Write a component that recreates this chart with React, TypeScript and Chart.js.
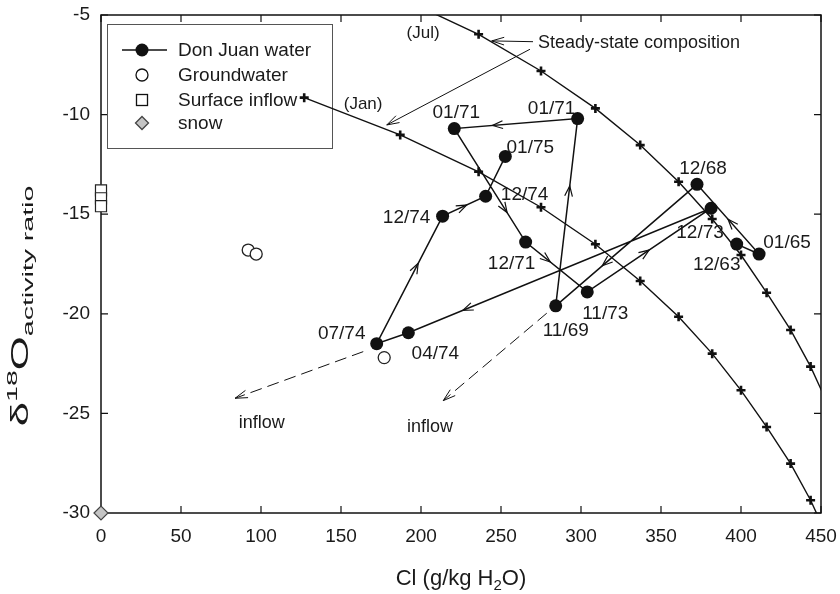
import { useEffect, useRef } from "react";
import { Chart, registerables } from "chart.js";

Chart.register(...registerables);

const FONT = '"Liberation Sans", Arial, Helvetica, sans-serif';
const INK = "#1a1a1a";

// Don Juan Pond water, in sampling order
const donJuanDates = ["12/63", "01/65", "12/68", "11/69", "01/71", "01/71", "12/71", "11/73", "12/73", "04/74", "07/74", "12/74", "12/74", "01/75"];
const donJuanCl = [397.3, 411.3, 372.5, 284.2, 297.9, 220.8, 265.4, 303.9, 381.3, 192.1, 172.3, 213.5, 240.4, 252.7];
const donJuanD18O = [-16.5, -17.0, -13.5, -19.6, -10.2, -10.7, -16.4, -18.9, -14.7, -20.95, -21.5, -15.1, -14.1, -12.1];

const groundwaterCl = [92, 97, 177];
const groundwaterD18O = [-16.8, -17.0, -22.2];

const surfaceInflowCl = [0, 0, 0];
const surfaceInflowD18O = [-13.8, -14.2, -14.6];

const snowCl = [0];
const snowD18O = [-30];

// Monthly steady-state compositions
const steadyStateCl = [127, 187, 236, 275, 309, 337, 361, 382, 400, 416, 431, 443.5, 454];
const steadyJanD18O = [-9.15, -11.02, -12.87, -14.65, -16.51, -18.35, -20.15, -22.0, -23.84, -25.68, -27.52, -29.36, -31.2];
const steadyJulD18O = [-2.3, -4.13, -5.97, -7.81, -9.69, -11.53, -13.37, -15.24, -17.05, -18.94, -20.81, -22.65, -24.5];

const xTickValues = [0, 50, 100, 150, 200, 250, 300, 350, 400, 450];
const yTickValues = [-30, -25, -20, -15, -10, -5];

// Where along each path segment the direction arrow sits (null = none)
const segmentArrowAt = [null, 0.5, 0.67, 0.64, 0.69, 0.74, 0.4, 0.5, 0.82, null, 0.63, 0.56, null];

// Label placement around each Don Juan sample, in pixels from the marker
const dateLabelOffsets: [number, number][] = [
  [-20, 21], [28, -11], [6, -16], [10, 25], [-26, -10], [2, -16], [-14, 22],
  [18, 22], [-11, 25], [27, 21], [-35, -10], [-36, 2], [39, -2], [25, -9],
];

// Annotation anchors in data units (Cl, δ18O)
const inflowArrows = [
  { from: [163.9, -21.9], to: [83.8, -24.24], text: [100.4, -25.47] },
  { from: [278.6, -19.97], to: [213.9, -24.36], text: [205.6, -25.67] },
];
const steadyStateNote = {
  text: [273.1, -6.4],
  julTip: [244.2, -6.3],
  julFrom: [270, -6.34],
  janFrom: [268.1, -6.72],
  janTip: [178.6, -10.52],
};
const julLabel = [201.3, -5.9];
const janLabel = [163.8, -9.47];

const toPoints = (xs: number[], ys: number[]) => xs.map((x, i) => ({ x, y: ys[i] }));

function arrowHead(ctx: CanvasRenderingContext2D, x: number, y: number, ang: number, len = 11, spread = 0.36) {
  ctx.beginPath();
  ctx.moveTo(x - len * Math.cos(ang - spread), y - len * Math.sin(ang - spread));
  ctx.lineTo(x, y);
  ctx.lineTo(x - len * Math.cos(ang + spread), y - len * Math.sin(ang + spread));
  ctx.stroke();
}

const framePlugin = {
  id: "frame",
  beforeDatasetsDraw(chart: any) {
    const { ctx, chartArea: a, scales } = chart;
    ctx.save();
    ctx.strokeStyle = "#111";
    ctx.lineWidth = 1.5;
    ctx.strokeRect(a.left, a.top, a.right - a.left, a.bottom - a.top);
    ctx.lineWidth = 1.2;
    const t = 7;
    ctx.fillStyle = INK;
    ctx.font = `19px ${FONT}`;
    ctx.textBaseline = "middle";
    for (const v of xTickValues) {
      const px = scales.x.getPixelForValue(v);
      ctx.beginPath();
      ctx.moveTo(px, a.bottom);
      ctx.lineTo(px, a.bottom - t);
      ctx.moveTo(px, a.top);
      ctx.lineTo(px, a.top + t);
      ctx.stroke();
      ctx.textAlign = "center";
      ctx.fillText(String(v), px, a.bottom + 24);
    }
    for (const v of yTickValues) {
      const py = scales.y.getPixelForValue(v);
      ctx.beginPath();
      ctx.moveTo(a.left, py);
      ctx.lineTo(a.left + t, py);
      ctx.moveTo(a.right, py);
      ctx.lineTo(a.right - t, py);
      ctx.stroke();
      ctx.textAlign = "right";
      ctx.fillText(String(v), a.left - 11, py);
    }

    // legend box
    const lx = a.left + 6, ly = a.top + 9, lw = 225, lh = 124;
    ctx.fillStyle = "#fff";
    ctx.fillRect(lx, ly, lw, lh);
    ctx.strokeStyle = "#555";
    ctx.lineWidth = 1;
    ctx.strokeRect(lx + 0.5, ly + 0.5, lw, lh);
    const mx = lx + 35, tx = lx + 71;
    const rows = [ly + 26, ly + 51, ly + 76, ly + 99];
    ctx.strokeStyle = "#111";
    ctx.lineWidth = 1.5;
    ctx.beginPath();
    ctx.moveTo(lx + 15, rows[0]);
    ctx.lineTo(lx + 60, rows[0]);
    ctx.stroke();
    ctx.fillStyle = "#111";
    ctx.beginPath();
    ctx.arc(mx, rows[0], 6.5, 0, Math.PI * 2);
    ctx.fill();
    ctx.fillStyle = "#fff";
    ctx.lineWidth = 1.3;
    ctx.beginPath();
    ctx.arc(mx, rows[1], 6, 0, Math.PI * 2);
    ctx.fill();
    ctx.stroke();
    ctx.fillRect(mx - 5.5, rows[2] - 5.5, 11, 11);
    ctx.strokeRect(mx - 5.5, rows[2] - 5.5, 11, 11);
    ctx.fillStyle = "#c4c4c4";
    ctx.strokeStyle = "#444";
    ctx.beginPath();
    ctx.moveTo(mx, rows[3] - 6.5);
    ctx.lineTo(mx + 6.5, rows[3]);
    ctx.lineTo(mx, rows[3] + 6.5);
    ctx.lineTo(mx - 6.5, rows[3]);
    ctx.closePath();
    ctx.fill();
    ctx.stroke();
    ctx.fillStyle = INK;
    ctx.font = `19px ${FONT}`;
    ctx.textBaseline = "middle";
    ctx.textAlign = "left";
    ["Don Juan water", "Groundwater", "Surface inflow", "snow"].forEach((s, i) => ctx.fillText(s, tx, rows[i] + 1));
    ctx.restore();
  },
};

const notesPlugin = {
  id: "notes",
  afterDatasetsDraw(chart: any) {
    const { ctx, chartArea: a, scales } = chart;
    const X = (v: number) => scales.x.getPixelForValue(v);
    const Y = (v: number) => scales.y.getPixelForValue(v);
    ctx.save();
    ctx.strokeStyle = "#111";
    ctx.fillStyle = INK;

    // direction arrows along the Don Juan path
    ctx.lineWidth = 1.2;
    segmentArrowAt.forEach((f, i) => {
      if (f == null) return;
      const x0 = X(donJuanCl[i]), y0 = Y(donJuanD18O[i]);
      const x1 = X(donJuanCl[i + 1]), y1 = Y(donJuanD18O[i + 1]);
      const ang = Math.atan2(y1 - y0, x1 - x0);
      arrowHead(ctx, x0 + (x1 - x0) * f, y0 + (y1 - y0) * f, ang, 11, 0.36);
    });

    // sample dates
    ctx.font = `19px ${FONT}`;
    ctx.textAlign = "center";
    ctx.textBaseline = "middle";
    donJuanDates.forEach((d, i) => {
      const [dx, dy] = dateLabelOffsets[i];
      ctx.fillText(d, X(donJuanCl[i]) + dx, Y(donJuanD18O[i]) + dy);
    });

    // steady-state note
    ctx.font = `18px ${FONT}`;
    ctx.textAlign = "left";
    ctx.fillText("Steady-state composition", X(steadyStateNote.text[0]), Y(steadyStateNote.text[1]));
    ctx.lineWidth = 1;
    const seg = (from: number[], to: number[]) => {
      const fx = X(from[0]), fy = Y(from[1]), txp = X(to[0]), typ = Y(to[1]);
      ctx.beginPath();
      ctx.moveTo(fx, fy);
      ctx.lineTo(txp, typ);
      ctx.stroke();
      arrowHead(ctx, txp, typ, Math.atan2(typ - fy, txp - fx), 13, 0.3);
    };
    seg(steadyStateNote.julFrom, steadyStateNote.julTip);
    seg(steadyStateNote.janFrom, steadyStateNote.janTip);
    ctx.font = `17px ${FONT}`;
    ctx.textAlign = "center";
    ctx.fillText("(Jul)", X(julLabel[0]), Y(julLabel[1]));
    ctx.fillText("(Jan)", X(janLabel[0]), Y(janLabel[1]));

    // inflow directions
    ctx.lineWidth = 1;
    for (const arr of inflowArrows) {
      const fx = X(arr.from[0]), fy = Y(arr.from[1]), txp = X(arr.to[0]), typ = Y(arr.to[1]);
      ctx.setLineDash([12, 6]);
      ctx.beginPath();
      ctx.moveTo(fx, fy);
      ctx.lineTo(txp, typ);
      ctx.stroke();
      ctx.setLineDash([]);
      arrowHead(ctx, txp, typ, Math.atan2(typ - fy, txp - fx), 13, 0.3);
      ctx.font = `18px ${FONT}`;
      ctx.fillText("inflow", X(arr.text[0]), Y(arr.text[1]));
    }

    // axis titles
    ctx.textBaseline = "alphabetic";
    ctx.textAlign = "left";
    const big = `22px ${FONT}`;
    const small = `15px ${FONT}`;
    // x title: Cl (g/kg H2O)
    ctx.font = big;
    const p1 = "Cl (g/kg H", p3 = "O)";
    const w1 = ctx.measureText(p1).width, w3 = ctx.measureText(p3).width;
    ctx.font = small;
    const w2 = ctx.measureText("2").width;
    const xc = (a.left + a.right) / 2;
    let sx = xc - (w1 + w2 + w3) / 2;
    const by = 585;
    ctx.font = big;
    ctx.fillText(p1, sx, by);
    sx += w1;
    ctx.font = small;
    ctx.fillText("2", sx, by + 5);
    sx += w2;
    ctx.font = big;
    ctx.fillText(p3, sx, by);

    // y title: δ18O activity ratio, set in an elongated face
    const yBig = `23px ${FONT}`;
    const ySmall = `15px ${FONT}`;
    ctx.translate(28, 306);
    ctx.rotate(-Math.PI / 2);
    ctx.scale(1.9, 1);
    ctx.font = yBig;
    const wd = ctx.measureText("δ").width, wo = ctx.measureText("O").width;
    ctx.font = ySmall;
    const w18 = ctx.measureText("18").width, wsub = ctx.measureText("activity ratio").width;
    let ox = -(wd + w18 + wo + wsub) / 2;
    ctx.font = yBig;
    ctx.fillText("δ", ox, 0);
    ox += wd;
    ctx.font = ySmall;
    ctx.fillText("18", ox, -11);
    ox += w18;
    ctx.font = yBig;
    ctx.fillText("O", ox, 0);
    ox += wo;
    ctx.font = ySmall;
    ctx.fillText("activity ratio", ox, 5);
    ctx.restore();
  },
};

export default function App() {
  const ref = useRef<HTMLCanvasElement | null>(null);

  useEffect(() => {
    document.body.style.margin = "0";
    const canvas = ref.current;
    if (!canvas) return;
    const curveStyle = {
      showLine: true,
      borderColor: "#111",
      borderWidth: 1.4,
      pointStyle: "cross" as const,
      pointRadius: 4.5,
      pointBorderWidth: 2.6,
      pointBorderColor: "#111",
      pointBackgroundColor: "#111",
    };
    const chart = new Chart(canvas, {
      type: "scatter",
      data: {
        datasets: [
          {
            label: "Don Juan water",
            data: toPoints(donJuanCl, donJuanD18O),
            showLine: true,
            borderColor: "#111",
            borderWidth: 1.5,
            pointRadius: 6.5,
            pointBackgroundColor: "#111",
            pointBorderColor: "#111",
            pointBorderWidth: 0,
          },
          {
            label: "Groundwater",
            data: toPoints(groundwaterCl, groundwaterD18O),
            pointRadius: 6,
            pointBackgroundColor: "#fff",
            pointBorderColor: "#222",
            pointBorderWidth: 1.3,
          },
          {
            label: "Surface inflow",
            data: toPoints(surfaceInflowCl, surfaceInflowD18O),
            pointStyle: "rect",
            pointRadius: 7.8,
            pointBackgroundColor: "#fff",
            pointBorderColor: "#222",
            pointBorderWidth: 1.2,
            clip: false,
          },
          {
            label: "snow",
            data: toPoints(snowCl, snowD18O),
            pointStyle: "rectRot",
            pointRadius: 7,
            pointBackgroundColor: "#c4c4c4",
            pointBorderColor: "#444",
            pointBorderWidth: 1.2,
            clip: false,
          },
          { label: "Steady state (Jan)", data: toPoints(steadyStateCl, steadyJanD18O), ...curveStyle },
          { label: "Steady state (Jul)", data: toPoints(steadyStateCl, steadyJulD18O), ...curveStyle },
        ],
      },
      options: {
        animation: false,
        responsive: false,
        events: [],
        layout: { padding: { top: 15, right: 19, left: 0, bottom: 0 } },
        plugins: { legend: { display: false }, tooltip: { enabled: false } },
        scales: {
          x: {
            type: "linear",
            min: 0,
            max: 450,
            grid: { display: false, drawTicks: false },
            border: { display: false },
            ticks: { display: false },
            afterFit: (s: any) => {
              s.height = 81;
            },
          },
          y: {
            type: "linear",
            min: -30,
            max: -5,
            grid: { display: false, drawTicks: false },
            border: { display: false },
            ticks: { display: false },
            afterFit: (s: any) => {
              s.width = 101;
            },
          },
        },
      },
      plugins: [framePlugin, notesPlugin],
    } as any);
    return () => chart.destroy();
  }, []);

  return <canvas ref={ref} width={840} height={594} style={{ display: "block" }} />;
}
